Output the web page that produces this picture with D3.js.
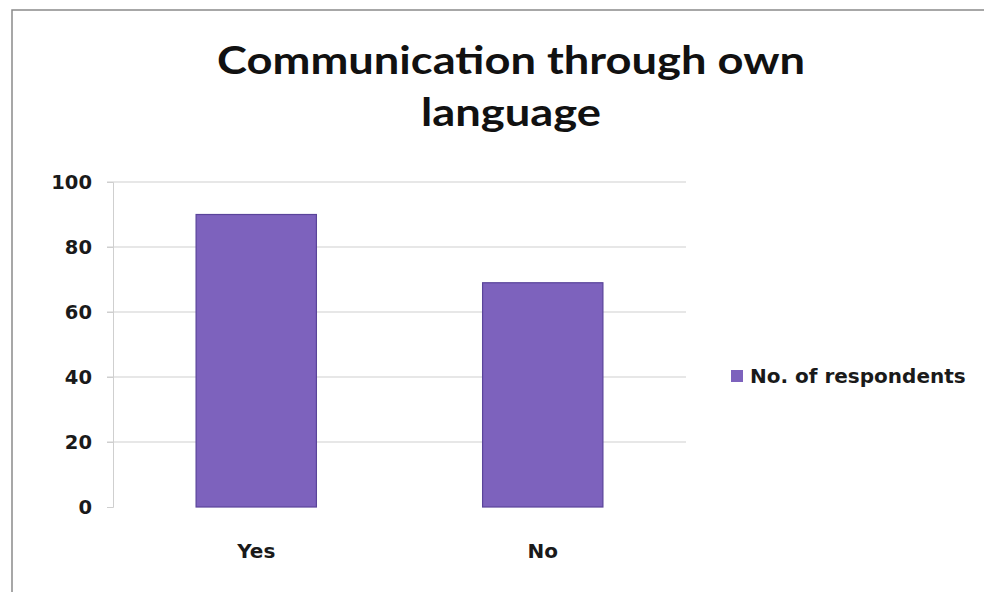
<!DOCTYPE html>
<html>
<head>
<meta charset="utf-8">
<script src="https://cdn.jsdelivr.net/npm/d3@7"></script>
<style>
  html, body { margin: 0; padding: 0; background: #fff; }
  svg { display: block; }
</style>
</head>
<body>
<svg id="chart" width="984" height="592"></svg>
<script>
// Survey answers and respondent counts
const categories = ["Yes", "No"];
const respondents = [90, 69];
const yTicks = [0, 20, 40, 60, 80, 100];
const seriesName = "No. of respondents";
const titleLines = ["Communication through own", "language"];

const svg = d3.select("#chart");
const titleFont = "Lato, 'Open Sans', sans-serif";
const labelFont = "'DejaVu Sans', 'Open Sans', sans-serif";

// chart frame
svg.append("rect")
  .attr("x", 12).attr("y", 10)
  .attr("width", 990).attr("height", 600)
  .attr("fill", "#fff")
  .attr("stroke", "#8a8a8a").attr("stroke-width", 1.5);

const plot = { left: 113, right: 686, top: 182, bottom: 507 };

const x = d3.scaleBand()
  .domain(categories)
  .range([plot.left, plot.right])
  .paddingInner(0.58)
  .paddingOuter(0.29);

const y = d3.scaleLinear()
  .domain([0, 100])
  .range([plot.bottom, plot.top]);

// horizontal gridlines
svg.append("g")
  .selectAll("line")
  .data(yTicks.filter(t => t > 0))
  .join("line")
  .attr("x1", plot.left - 6).attr("x2", plot.right)
  .attr("y1", d => y(d)).attr("y2", d => y(d))
  .attr("stroke", "#cfcfcf").attr("stroke-width", 1);

// value axis
const yAxis = svg.append("g")
  .attr("transform", `translate(${plot.left},0)`)
  .call(d3.axisLeft(y).tickValues(yTicks).tickSize(6).tickPadding(15));
yAxis.select(".domain").attr("stroke", "#cfcfcf");
yAxis.selectAll(".tick line").attr("stroke", "#cfcfcf");
yAxis.selectAll(".tick text")
  .attr("font-family", labelFont)
  .attr("font-weight", "bold")
  .attr("font-size", 19.5)
  .attr("fill", "#1a1a1a");

// bars
svg.append("g")
  .selectAll("rect")
  .data(categories.map((c, i) => ({ c, v: respondents[i] })))
  .join("rect")
  .attr("x", d => x(d.c))
  .attr("y", d => y(d.v))
  .attr("width", x.bandwidth())
  .attr("height", d => y(0) - y(d.v))
  .attr("fill", "#7d62bd")
  .attr("stroke", "#5a449a")
  .attr("stroke-width", 1.2);

// category labels
svg.append("g")
  .selectAll("text")
  .data(categories)
  .join("text")
  .attr("x", d => x(d) + x.bandwidth() / 2)
  .attr("y", 558)
  .attr("text-anchor", "middle")
  .attr("font-family", labelFont)
  .attr("font-weight", "bold")
  .attr("font-size", 20)
  .attr("fill", "#1a1a1a")
  .text(d => d);

// title, widened slightly to the heading proportions
const titleWidths = [588, 180];
svg.append("g")
  .selectAll("text")
  .data(titleLines)
  .join("text")
  .attr("x", 511)
  .attr("y", (d, i) => 74 + i * 52)
  .attr("text-anchor", "middle")
  .attr("font-family", titleFont)
  .attr("font-weight", "bold")
  .attr("font-size", 39)
  .attr("textLength", (d, i) => titleWidths[i])
  .attr("lengthAdjust", "spacingAndGlyphs")
  .attr("fill", "#111")
  .text(d => d);

// legend
const legend = svg.append("g").attr("transform", "translate(731,376)");
legend.append("rect")
  .attr("x", 0).attr("y", -6)
  .attr("width", 12).attr("height", 12)
  .attr("fill", "#7d62bd");
legend.append("text")
  .attr("x", 19).attr("y", 7)
  .attr("font-family", labelFont)
  .attr("font-weight", "bold")
  .attr("font-size", 20)
  .attr("fill", "#1a1a1a")
  .text(seriesName);
</script>
</body>
</html>
